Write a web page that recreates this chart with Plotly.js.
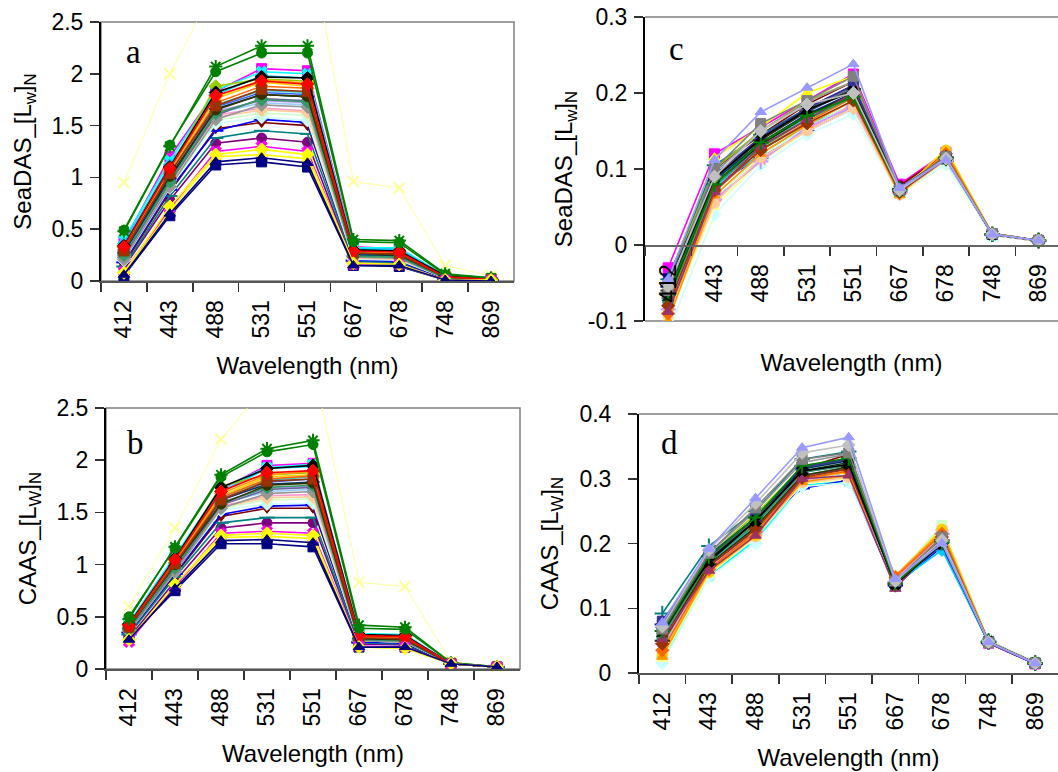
<!DOCTYPE html>
<html>
<head>
<meta charset="utf-8">
<script src="https://cdn.plot.ly/plotly-3.0.1.min.js"></script>
<style>html,body{margin:0;padding:0;background:#fff;}#chart{width:1058px;height:772px;}</style>
</head>
<body>
<div id="chart"></div>
<script>
// ---------------- DATA ----------------
const wavelengths = ['412','443','488','531','551','667','678','748','869'];

// Panel a: SeaDAS [Lw]N (one row per spectrum, values at the 9 wavelengths)
const seadasA = [
  [0.05,0.63,1.12,1.15,1.10,0.15,0.14,0.01,0.00],
  [0.38,1.20,1.83,2.05,2.03,0.33,0.31,0.05,0.02],
  [0.07,0.68,1.20,1.22,1.18,0.16,0.15,0.01,0.01],
  [0.40,1.16,1.84,2.02,2.00,0.32,0.32,0.05,0.02],
  [0.13,0.78,1.33,1.38,1.34,0.17,0.17,0.02,0.01],
  [0.16,0.86,1.47,1.53,1.50,0.20,0.19,0.02,0.01],
  [0.14,0.82,1.38,1.45,1.42,0.19,0.18,0.02,0.01],
  [0.18,0.88,1.45,1.56,1.53,0.20,0.19,0.02,0.01],
  [0.36,1.12,1.80,1.98,1.96,0.31,0.30,0.05,0.02],
  [0.20,0.90,1.52,1.58,1.55,0.21,0.20,0.03,0.01],
  [0.22,0.92,1.55,1.62,1.60,0.22,0.21,0.03,0.01],
  [0.95,2.00,2.85,3.20,3.40,0.96,0.90,0.15,0.05],
  [0.26,0.97,1.62,1.72,1.70,0.24,0.23,0.03,0.01],
  [0.25,0.94,1.60,1.67,1.64,0.23,0.22,0.03,0.01],
  [0.27,0.98,1.64,1.74,1.72,0.25,0.24,0.03,0.02],
  [0.24,0.93,1.58,1.65,1.63,0.22,0.21,0.03,0.01],
  [0.28,1.00,1.68,1.82,1.80,0.26,0.25,0.04,0.02],
  [0.30,1.03,1.70,1.84,1.82,0.27,0.26,0.04,0.02],
  [0.33,1.08,1.88,1.95,1.93,0.29,0.28,0.04,0.02],
  [0.31,1.06,1.76,1.92,1.88,0.28,0.27,0.04,0.02],
  [0.32,1.07,1.78,1.94,1.91,0.29,0.28,0.04,0.02],
  [0.29,1.04,1.72,1.88,1.86,0.27,0.26,0.04,0.02],
  [0.23,0.95,1.60,1.76,1.74,0.24,0.23,0.03,0.01],
  [0.21,0.91,1.56,1.70,1.68,0.23,0.22,0.03,0.01],
  [0.27,0.99,1.66,1.80,1.78,0.25,0.24,0.03,0.02],
  [0.25,0.96,1.62,1.75,1.73,0.24,0.23,0.03,0.01],
  [0.30,1.01,1.65,1.80,1.78,0.27,0.25,0.04,0.02],
  [0.29,1.04,1.69,1.85,1.83,0.27,0.26,0.04,0.02],
  [0.34,1.10,1.82,1.97,1.96,0.30,0.29,0.05,0.02],
  [0.33,1.09,1.79,1.93,1.90,0.29,0.28,0.04,0.02],
  [0.48,1.30,2.07,2.27,2.27,0.40,0.39,0.07,0.03],
  [0.49,1.31,2.02,2.20,2.20,0.38,0.37,0.06,0.03],
  [0.09,0.70,1.25,1.30,1.25,0.16,0.16,0.01,0.01],
  [0.08,0.72,1.22,1.27,1.22,0.17,0.16,0.01,0.01],
  [0.06,0.65,1.15,1.19,1.14,0.15,0.15,0.01,0.00]
];

// Panel b: CAAS [Lw]N
const caasB = [
  [0.30,0.75,1.20,1.20,1.17,0.21,0.21,0.05,0.02],
  [0.42,1.07,1.72,1.95,1.97,0.33,0.32,0.05,0.02],
  [0.27,0.80,1.26,1.27,1.25,0.21,0.20,0.05,0.02],
  [0.44,1.08,1.73,1.93,1.96,0.34,0.33,0.05,0.02],
  [0.30,0.84,1.35,1.40,1.40,0.24,0.23,0.05,0.02],
  [0.34,0.90,1.46,1.54,1.54,0.26,0.25,0.05,0.02],
  [0.33,0.88,1.40,1.45,1.45,0.25,0.24,0.05,0.02],
  [0.35,0.91,1.48,1.56,1.57,0.26,0.25,0.05,0.02],
  [0.43,1.06,1.70,1.92,1.94,0.33,0.32,0.05,0.02],
  [0.36,0.93,1.52,1.58,1.59,0.27,0.26,0.05,0.02],
  [0.37,0.94,1.54,1.62,1.63,0.27,0.26,0.05,0.02],
  [0.60,1.35,2.20,2.72,2.92,0.83,0.79,0.07,0.02],
  [0.38,0.96,1.58,1.70,1.72,0.28,0.27,0.05,0.02],
  [0.37,0.95,1.56,1.66,1.67,0.28,0.27,0.05,0.02],
  [0.39,0.97,1.60,1.73,1.75,0.29,0.28,0.05,0.02],
  [0.36,0.94,1.55,1.64,1.65,0.27,0.26,0.05,0.02],
  [0.40,1.00,1.63,1.79,1.82,0.30,0.29,0.05,0.02],
  [0.41,1.01,1.65,1.81,1.84,0.30,0.29,0.05,0.02],
  [0.42,1.05,1.75,1.86,1.88,0.32,0.31,0.05,0.02],
  [0.41,1.03,1.66,1.84,1.86,0.31,0.30,0.05,0.02],
  [0.42,1.04,1.68,1.86,1.89,0.31,0.30,0.05,0.02],
  [0.40,1.02,1.64,1.82,1.85,0.30,0.29,0.05,0.02],
  [0.37,0.95,1.57,1.72,1.74,0.28,0.27,0.05,0.02],
  [0.36,0.93,1.54,1.68,1.70,0.27,0.26,0.05,0.02],
  [0.39,0.99,1.62,1.77,1.79,0.29,0.28,0.05,0.02],
  [0.38,0.97,1.59,1.74,1.76,0.28,0.27,0.05,0.02],
  [0.40,1.00,1.58,1.76,1.78,0.29,0.28,0.05,0.02],
  [0.40,1.01,1.62,1.80,1.82,0.30,0.29,0.05,0.02],
  [0.43,1.06,1.74,1.92,1.95,0.33,0.32,0.05,0.02],
  [0.42,1.05,1.70,1.88,1.90,0.32,0.31,0.05,0.02],
  [0.48,1.17,1.86,2.11,2.19,0.42,0.40,0.06,0.02],
  [0.50,1.16,1.84,2.08,2.15,0.39,0.38,0.06,0.02],
  [0.26,0.79,1.30,1.32,1.30,0.22,0.21,0.05,0.02],
  [0.28,0.81,1.28,1.30,1.28,0.21,0.20,0.05,0.02],
  [0.28,0.77,1.23,1.24,1.21,0.21,0.21,0.05,0.02]
];

// Panel c: SeaDAS [Lw]N
const seadasC = [
  [-0.040,0.085,0.140,0.180,0.210,0.075,0.118,0.014,0.006],
  [-0.030,0.120,0.155,0.190,0.225,0.080,0.122,0.015,0.006],
  [-0.050,0.115,0.155,0.200,0.222,0.072,0.125,0.015,0.006],
  [-0.060,0.090,0.125,0.160,0.180,0.070,0.110,0.013,0.005],
  [-0.070,0.080,0.130,0.170,0.200,0.072,0.115,0.014,0.006],
  [-0.050,0.100,0.145,0.185,0.215,0.078,0.120,0.015,0.006],
  [-0.045,0.105,0.145,0.180,0.205,0.074,0.115,0.014,0.006],
  [-0.055,0.080,0.115,0.150,0.180,0.070,0.110,0.013,0.005],
  [-0.065,0.075,0.120,0.155,0.185,0.070,0.112,0.014,0.005],
  [-0.115,0.040,0.105,0.145,0.172,0.066,0.106,0.013,0.005],
  [-0.085,0.060,0.118,0.155,0.185,0.068,0.112,0.014,0.005],
  [-0.095,0.050,0.110,0.150,0.180,0.066,0.110,0.013,0.005],
  [-0.080,0.065,0.120,0.158,0.190,0.070,0.114,0.014,0.006],
  [-0.090,0.058,0.112,0.152,0.185,0.068,0.112,0.014,0.005],
  [-0.085,0.060,0.110,0.155,0.182,0.069,0.113,0.014,0.005],
  [-0.092,0.055,0.115,0.150,0.180,0.066,0.118,0.014,0.005],
  [-0.060,0.085,0.140,0.175,0.205,0.073,0.116,0.014,0.006],
  [-0.070,0.075,0.130,0.168,0.198,0.071,0.114,0.014,0.006],
  [-0.050,0.100,0.150,0.190,0.215,0.074,0.118,0.015,0.006],
  [-0.080,0.070,0.130,0.165,0.195,0.070,0.125,0.015,0.006],
  [-0.100,0.065,0.120,0.158,0.190,0.066,0.122,0.014,0.006],
  [-0.090,0.070,0.125,0.162,0.194,0.068,0.120,0.014,0.006],
  [-0.060,0.090,0.140,0.178,0.208,0.073,0.115,0.014,0.006],
  [-0.055,0.095,0.150,0.188,0.215,0.074,0.116,0.015,0.006],
  [-0.065,0.085,0.135,0.172,0.200,0.072,0.114,0.014,0.006],
  [-0.075,0.078,0.128,0.165,0.195,0.071,0.113,0.014,0.006],
  [-0.070,0.082,0.132,0.170,0.198,0.072,0.114,0.014,0.006],
  [-0.060,0.088,0.138,0.176,0.205,0.073,0.115,0.014,0.006],
  [-0.080,0.072,0.125,0.160,0.190,0.070,0.113,0.014,0.006],
  [-0.088,0.070,0.130,0.165,0.200,0.070,0.115,0.014,0.006],
  [-0.050,0.092,0.142,0.180,0.210,0.074,0.116,0.014,0.006],
  [-0.058,0.088,0.140,0.178,0.202,0.073,0.115,0.014,0.006],
  [-0.065,0.080,0.135,0.170,0.195,0.072,0.114,0.014,0.006],
  [-0.060,0.100,0.160,0.190,0.222,0.073,0.116,0.015,0.006],
  [-0.055,0.090,0.150,0.185,0.200,0.072,0.114,0.014,0.006],
  [-0.045,0.112,0.175,0.207,0.238,0.075,0.112,0.014,0.006]
];

// Panel d: CAAS [Lw]N
const caasD = [
  [0.080,0.175,0.240,0.318,0.330,0.138,0.200,0.048,0.015],
  [0.062,0.176,0.226,0.310,0.322,0.140,0.205,0.046,0.014],
  [0.030,0.152,0.210,0.295,0.305,0.145,0.215,0.047,0.015],
  [0.020,0.150,0.205,0.290,0.296,0.142,0.220,0.050,0.016],
  [0.050,0.165,0.220,0.305,0.315,0.135,0.200,0.047,0.015],
  [0.065,0.170,0.230,0.315,0.338,0.138,0.200,0.048,0.015],
  [0.092,0.196,0.250,0.330,0.342,0.140,0.195,0.050,0.016],
  [0.075,0.170,0.225,0.285,0.298,0.135,0.195,0.046,0.014],
  [0.070,0.168,0.222,0.300,0.310,0.138,0.190,0.047,0.015],
  [0.015,0.148,0.200,0.288,0.294,0.140,0.225,0.050,0.017],
  [0.025,0.155,0.212,0.295,0.302,0.148,0.228,0.050,0.017],
  [0.022,0.152,0.210,0.292,0.300,0.146,0.225,0.049,0.016],
  [0.040,0.160,0.215,0.298,0.306,0.142,0.218,0.049,0.016],
  [0.035,0.158,0.213,0.296,0.304,0.144,0.220,0.048,0.016],
  [0.045,0.162,0.218,0.300,0.310,0.140,0.215,0.048,0.015],
  [0.030,0.155,0.210,0.294,0.302,0.150,0.222,0.049,0.016],
  [0.070,0.175,0.235,0.310,0.322,0.138,0.200,0.047,0.015],
  [0.060,0.170,0.228,0.305,0.318,0.136,0.198,0.047,0.015],
  [0.065,0.182,0.245,0.318,0.330,0.138,0.205,0.048,0.015],
  [0.028,0.155,0.212,0.300,0.310,0.148,0.222,0.049,0.016],
  [0.025,0.158,0.215,0.295,0.305,0.150,0.218,0.048,0.016],
  [0.035,0.160,0.218,0.300,0.312,0.148,0.215,0.048,0.016],
  [0.060,0.178,0.238,0.318,0.330,0.140,0.205,0.048,0.015],
  [0.070,0.185,0.250,0.325,0.338,0.140,0.205,0.049,0.015],
  [0.075,0.180,0.240,0.315,0.328,0.138,0.200,0.048,0.015],
  [0.055,0.172,0.230,0.310,0.320,0.138,0.205,0.048,0.015],
  [0.060,0.175,0.235,0.312,0.325,0.136,0.200,0.048,0.015],
  [0.050,0.168,0.225,0.305,0.318,0.138,0.205,0.048,0.015],
  [0.045,0.165,0.222,0.302,0.315,0.140,0.210,0.048,0.015],
  [0.052,0.158,0.212,0.300,0.305,0.130,0.210,0.046,0.015],
  [0.080,0.182,0.240,0.318,0.330,0.138,0.198,0.048,0.015],
  [0.070,0.172,0.235,0.312,0.322,0.137,0.200,0.048,0.015],
  [0.065,0.180,0.240,0.320,0.332,0.138,0.202,0.048,0.015],
  [0.068,0.185,0.255,0.330,0.340,0.142,0.210,0.047,0.015],
  [0.072,0.190,0.262,0.340,0.352,0.142,0.205,0.048,0.015],
  [0.078,0.192,0.270,0.348,0.364,0.145,0.200,0.048,0.015]
];

const yTicksA = [0, 0.5, 1, 1.5, 2, 2.5];
const yTicksC = [-0.1, 0, 0.1, 0.2, 0.3];
const yTextC = ['-0.1', '0', '0.1', '0.2', '0.3'];
const yTicksD = [0, 0.1, 0.2, 0.3, 0.4];

// ---------------- STYLES ----------------
const colorsAB = ['#000080','#FF00FF','#FFFF00','#00FFFF','#800080','#800000','#008080','#0000FF','#00CCFF','#CCFFFF','#CCFFCC','#FFFF99','#99CCFF','#FF99CC','#CC99FF','#FFCC99','#3366FF','#33CCCC','#99CC00','#FFCC00','#FF9900','#FF6600','#666699','#969696','#003366','#339966','#333300','#993300','#000000','#FF0000','#008000','#008000','#FF00FF','#FFFF00','#000080'];
const symbolsAB = ['square','square','triangle-up','x','circle','triangle-down','line-ew-open','line-ew-open','diamond','diamond','diamond','x-thin-open','diamond','circle','diamond','diamond','triangle-up','diamond','diamond','square','diamond','diamond','diamond','diamond','diamond','diamond','circle','square','diamond','diamond','asterisk-open','circle','x','diamond','triangle-up'];
const colorsCD = ['#000080','#FF00FF','#FFFF00','#00FFFF','#800080','#800000','#008080','#0000FF','#00CCFF','#CCFFFF','#CCFFCC','#FFFF99','#99CCFF','#FF99CC','#CC99FF','#FFCC99','#3366FF','#33CCCC','#99CC00','#FFCC00','#FF9900','#FF6600','#666699','#969696','#003366','#339966','#003300','#333300','#993300','#993366','#333399','#000000','#008000','#808080','#C0C0C0','#9999FF'];
const symbolsCD = ['circle','square','triangle-up','x','asterisk-open','circle','cross-thin-open','line-ew-open','diamond','diamond','square','triangle-up','x','asterisk-open','cross-thin-open','circle','diamond','square','triangle-up','circle','triangle-up','diamond','square','x','diamond','square','triangle-up','cross-thin-open','diamond','triangle-up','square','x','cross-thin-open','square','diamond','triangle-up'];

function makeTraces(rows, colors, symbols, xa, ya, lo, hi) {
  return rows.map((vals, i) => {
    const sym = symbols[i % symbols.length];
    const col = colors[i % colors.length];
    const open = sym.indexOf('open') >= 0;
    const faint = col === '#FFFF99' && (xa === 'x' || xa === 'x2');
    return {
      type: 'scatter', mode: 'lines+markers',
      x: wavelengths, y: vals, xaxis: xa, yaxis: ya,
      line: {color: col, width: faint ? 1 : 1.6},
      marker: {symbol: sym, size: open ? 11 : 10, color: col,
               line: {color: col, width: open ? 2 : 1}},
      cliponaxis: vals.every(v => v >= lo && v <= hi),
      showlegend: false, hoverinfo: 'skip'
    };
  });
}

const traces = [].concat(
  makeTraces(seadasA, colorsAB, symbolsAB, 'x', 'y', 0, 2.5),
  makeTraces(caasB, colorsAB, symbolsAB, 'x2', 'y2', 0, 2.5),
  makeTraces(seadasC, colorsCD, symbolsCD, 'x3', 'y3', -0.1, 0.3),
  makeTraces(caasD, colorsCD, symbolsCD, 'x4', 'y4', 0, 0.4)
);

const FONT = 'Arial, "Liberation Sans", sans-serif';
const tickFont = {family: FONT, size: 23, color: '#000'};
const titleFont = {family: FONT, size: 24, color: '#000'};

function xAxis(domain, anchor, rmax, standoff, extra) {
  return Object.assign({
    domain: domain, anchor: anchor, type: 'category', categoryorder: 'array', categoryarray: wavelengths,
    range: [-0.5, rmax], tickson: 'boundaries', ticks: 'outside', ticklen: 9, tickwidth: 1.5, tickcolor: '#333',
    tickangle: -90, tickfont: tickFont, ticklabelstandoff: 8,
    showline: true, linecolor: '#555', linewidth: 2, showgrid: false, zeroline: false, fixedrange: true,
    title: {text: 'Wavelength (nm)', font: titleFont, standoff: standoff}
  }, extra || {});
}
function yAxis(domain, anchor, range, tickvals, ticktext, title, standoff, lstand) {
  const ax = {
    domain: domain, anchor: anchor, range: range, tickvals: tickvals,
    ticks: 'outside', ticklen: 9, tickwidth: 1.5, tickcolor: '#333', tickfont: tickFont, ticklabelstandoff: lstand,
    showline: true, linecolor: '#000', linewidth: 2, showgrid: false, zeroline: false, fixedrange: true,
    title: {text: title, font: titleFont, standoff: standoff}
  };
  if (ticktext) ax.ticktext = ticktext;
  return ax;
}

const domA = {x: [101/1058, 514/1058], y: [1 - 281/772, 1 - 22/772]};
const domB = {x: [106/1058, 520/1058], y: [1 - 669/772, 1 - 408/772]};
const domC = {x: [645/1058, 1], y: [1 - 321/772, 1 - 17/772]};
const domD = {x: [639/1058, 1], y: [1 - 673/772, 1 - 414/772]};

const layout = {
  width: 1058, height: 772, margin: {l: 0, r: 0, t: 0, b: 0},
  paper_bgcolor: '#fff', plot_bgcolor: 'rgba(0,0,0,0)', showlegend: false,
  xaxis: xAxis(domA.x, 'y', 8.5, 20),
  yaxis: yAxis(domA.y, 'x', [0, 2.5], yTicksA, null, 'SeaDAS_[L<sub>w</sub>]<sub>N</sub>', 13, 2),
  xaxis2: xAxis(domB.x, 'y2', 8.5, 20),
  yaxis2: yAxis(domB.y, 'x2', [0, 2.5], yTicksA, null, 'CAAS_[L<sub>W</sub>]<sub>N</sub>', 13, 2),
  xaxis3: xAxis(domC.x, 'free', 8.42, 52, {position: 1 - 246/772, linecolor: '#666'}),
  yaxis3: yAxis(domC.y, 'x3', [-0.1, 0.3], yTicksC, yTextC, 'SeaDAS_[L<sub>w</sub>]<sub>N</sub>', 8, 2),
  xaxis4: xAxis(domD.x, 'y4', 8.49, 20),
  yaxis4: yAxis(domD.y, 'x4', [0, 0.4], yTicksD, null, 'CAAS_[L<sub>W</sub>]<sub>N</sub>', 14, 12),
  shapes: [
    {type: 'rect', xref: 'x domain', yref: 'y domain', x0: 0, x1: 1, y0: 0, y1: 1, layer: 'below', line: {color: '#808080', width: 1.5}},
    {type: 'rect', xref: 'x2 domain', yref: 'y2 domain', x0: 0, x1: 1, y0: 0, y1: 1, layer: 'below', line: {color: '#808080', width: 1.5}},
    {type: 'line', xref: 'x3 domain', yref: 'y3 domain', x0: 0, x1: 1, y0: 1, y1: 1, layer: 'below', line: {color: '#808080', width: 1.5}},
    {type: 'line', xref: 'x3 domain', yref: 'y3 domain', x0: 0, x1: 1, y0: 0, y1: 0, layer: 'below', line: {color: '#808080', width: 1.5}},
    {type: 'line', xref: 'x4 domain', yref: 'y4 domain', x0: 0, x1: 1, y0: 1, y1: 1, layer: 'below', line: {color: '#808080', width: 1.5}}
  ],
  annotations: [
    {text: 'a', x: 133/1058, y: 1 - 52/772},
    {text: 'b', x: 135/1058, y: 1 - 443/772},
    {text: 'c', x: 676/1058, y: 1 - 49/772},
    {text: 'd', x: 669/1058, y: 1 - 443/772}
  ].map(a => Object.assign(a, {xref: 'paper', yref: 'paper', showarrow: false, xanchor: 'center', yanchor: 'middle',
      font: {family: '"Liberation Serif", "Times New Roman", serif', size: 33, color: '#000'}}))
};

Plotly.newPlot('chart', traces, layout, {staticPlot: true, displayModeBar: false});
</script>
</body>
</html>
